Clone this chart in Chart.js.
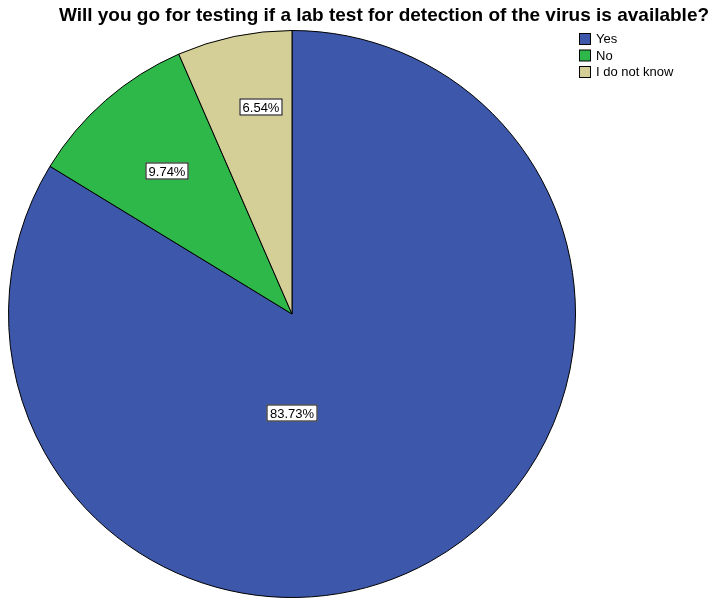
<!DOCTYPE html>
<html>
<head>
<meta charset="utf-8">
<script src="https://cdn.jsdelivr.net/npm/chart.js@4/dist/chart.umd.min.js"></script>
<style>
  html, body { margin: 0; padding: 0; background: #fff; }
  #wrap { width: 721px; height: 601px; position: relative; }
</style>
</head>
<body>
<div id="wrap"><canvas id="pie"></canvas></div>
<script>
// Survey answers, percent of respondents
const TITLE = 'Will you go for testing if a lab test for detection of the virus is available?';
const ANSWERS = ['Yes', 'No', 'I do not know'];
const SHARES = [83.73, 9.74, 6.54];
const COLORS = ['#3d58ab', '#2eb849', '#d4cf97'];

const FONT = '"Liberation Sans", Arial, sans-serif';

// Title, legend and the boxed percent labels drawn SPSS-style.
const spssLook = {
  id: 'spssLook',
  afterDraw(chart, args, opts) {
    const c = chart.ctx;
    const meta = chart.getDatasetMeta(0);
    c.save();

    // title
    c.fillStyle = '#000';
    c.font = 'bold 19px ' + FONT;
    c.textAlign = 'center';
    c.textBaseline = 'alphabetic';
    c.fillText(TITLE, opts.titleX, opts.titleY);

    // legend
    c.font = '13px ' + FONT;
    c.textAlign = 'left';
    c.textBaseline = 'middle';
    ANSWERS.forEach(function (lab, i) {
      const y = opts.legendY + i * 16.5;
      c.fillStyle = COLORS[i];
      c.fillRect(opts.legendX + 0.5, y - 5.5, 11, 11);
      c.strokeStyle = '#000';
      c.lineWidth = 1;
      c.strokeRect(opts.legendX + 0.5, y - 5.5, 11, 11);
      c.fillStyle = '#000';
      c.fillText(lab, opts.legendX + 17, y + 0.5);
    });

    // percent labels
    c.font = '13px ' + FONT;
    c.textAlign = 'center';
    meta.data.forEach(function (arc, i) {
      const p = arc.getProps(['x', 'y', 'startAngle', 'endAngle', 'outerRadius'], true);
      const place = opts.place[i];
      const ang = place.angle != null ? place.angle * Math.PI / 180 : (p.startAngle + p.endAngle) / 2;
      const x = Math.round(p.x + Math.cos(ang) * place.r * p.outerRadius);
      const y = Math.round(p.y + Math.sin(ang) * place.r * p.outerRadius);
      const txt = SHARES[i].toFixed(2) + '%';
      const w = Math.ceil(c.measureText(txt).width) + 6, h = 17;
      c.fillStyle = '#fff';
      c.fillRect(x - w / 2, y - h / 2, w, h);
      c.strokeStyle = '#000';
      c.strokeRect(x - w / 2 + 0.5, y - h / 2 + 0.5, w - 1, h - 1);
      c.fillStyle = '#000';
      c.fillText(txt, x, y + 1);
    });
    c.restore();
  }
};

new Chart(document.getElementById('pie'), {
  type: 'pie',
  data: {
    labels: ANSWERS,
    datasets: [{ data: SHARES, backgroundColor: COLORS, borderColor: '#000', borderWidth: 1 }]
  },
  options: {
    responsive: true,
    maintainAspectRatio: false,
    animation: false,
    layout: { padding: { left: 8, top: 30, right: 145, bottom: 3 } },
    plugins: {
      legend: { display: false },
      tooltip: { enabled: false },
      spssLook: {
        titleX: 384, titleY: 21,
        legendX: 579, legendY: 39,
        place: [{ angle: 90, r: 0.35 }, { r: 0.67 }, { angle: 261.5, r: 0.74 }]
      }
    }
  },
  plugins: [spssLook]
});
</script>
</body>
</html>
